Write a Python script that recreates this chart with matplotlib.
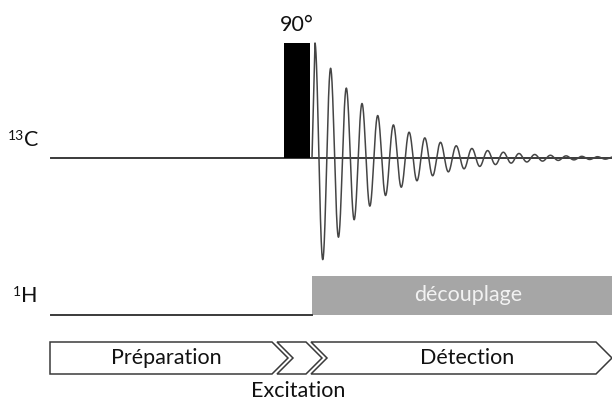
"""
13C NMR pulse sequence: 90 degree pulse, FID, 1H decoupling.
Drawn in pixel coordinates of a 612x401 figure.
"""

import numpy as np
import matplotlib.pyplot as plt
from matplotlib.patches import Polygon, Rectangle

plt.rcParams['font.family'] = ['Lato', 'DejaVu Sans']

# Labels
channel_isotopes = ['13', '1']
channel_atoms = ['C', 'H']
pulse_label = '90°'
decoupling_label = 'découplage'
phase_labels = ['Préparation', 'Excitation', 'Détection']

# FID: first maximum, period and decay (px)
fid_amplitude = 115.0
fid_period = 15.7
fid_decay = 63.0

W, H = 612, 401
fig = plt.figure(figsize=(W / 100, H / 100), dpi=100)
ax = fig.add_axes([0, 0, 1, 1])
ax.set_xlim(0, W)
ax.set_ylim(H, 0)
ax.axis('off')

line_col = '#3a3a3a'
txt_col = '#111111'
fs = 15.5
c_y, h_y = 158, 315
x_start, x_pulse, x_end = 51, 284, 612
pulse_w = 26

# 13C channel
ax.plot([x_start, x_end], [c_y, c_y], color=line_col, lw=1.4, zorder=2)
ax.add_patch(Rectangle((x_pulse, 43), pulse_w, c_y - 43, facecolor='black',
                       edgecolor='none', zorder=3))
ax.text(x_pulse + pulse_w / 2, 25, pulse_label, ha='center', va='center',
        fontsize=fs, color=txt_col)

x0 = x_pulse + pulse_w + 5
x = np.linspace(x0, x_end, 3000)
fid = fid_amplitude * np.exp(-(x - x0) / fid_decay) * np.cos(2 * np.pi * (x - x0) / fid_period)
x = np.concatenate([[x0 - 3], x])
fid = np.concatenate([[0], fid])
ax.plot(x, c_y - fid, color='#454545', lw=1.1, zorder=4)

# 1H channel
ax.plot([x_start, x_pulse + pulse_w + 2], [h_y, h_y], color=line_col, lw=1.4)
ax.add_patch(Rectangle((x_pulse + pulse_w + 2, 276), x_end - x_pulse - pulse_w - 2,
                       h_y - 276, facecolor='#a6a6a6', edgecolor='none'))
ax.text(468, 295, decoupling_label, ha='center', va='center', fontsize=fs,
        color='#f2f2f2')

# channel names
for x_lab, y_lab, iso, atom in zip([24, 21], [140, 296], channel_isotopes, channel_atoms):
    ax.text(x_lab, y_lab, atom, ha='left', va='center', fontsize=fs, color=txt_col)
    ax.text(x_lab, y_lab - 4, iso, ha='right', va='center', fontsize=10, color=txt_col)

# phase arrows
top, bot, mid, d = 342, 374, 358, 16
shapes = [
    [(50, top), (272, top), (272 + d, mid), (272, bot), (50, bot)],
    [(277, top), (306, top), (306 + d, mid), (306, bot), (277, bot), (277 + d, mid)],
    [(311, top), (596, top), (596 + d, mid), (596, bot), (311, bot), (311 + d, mid)],
]
for pts in shapes:
    ax.add_patch(Polygon(pts, closed=True, facecolor='white', edgecolor=line_col,
                         lw=1.1, joinstyle='miter'))
ax.text(166, mid, phase_labels[0], ha='center', va='center', fontsize=fs, color=txt_col)
ax.text(298, 391, phase_labels[1], ha='center', va='center', fontsize=fs, color=txt_col)
ax.text(467, mid, phase_labels[2], ha='center', va='center', fontsize=fs, color=txt_col)

fig.savefig('out.png', dpi=100)
